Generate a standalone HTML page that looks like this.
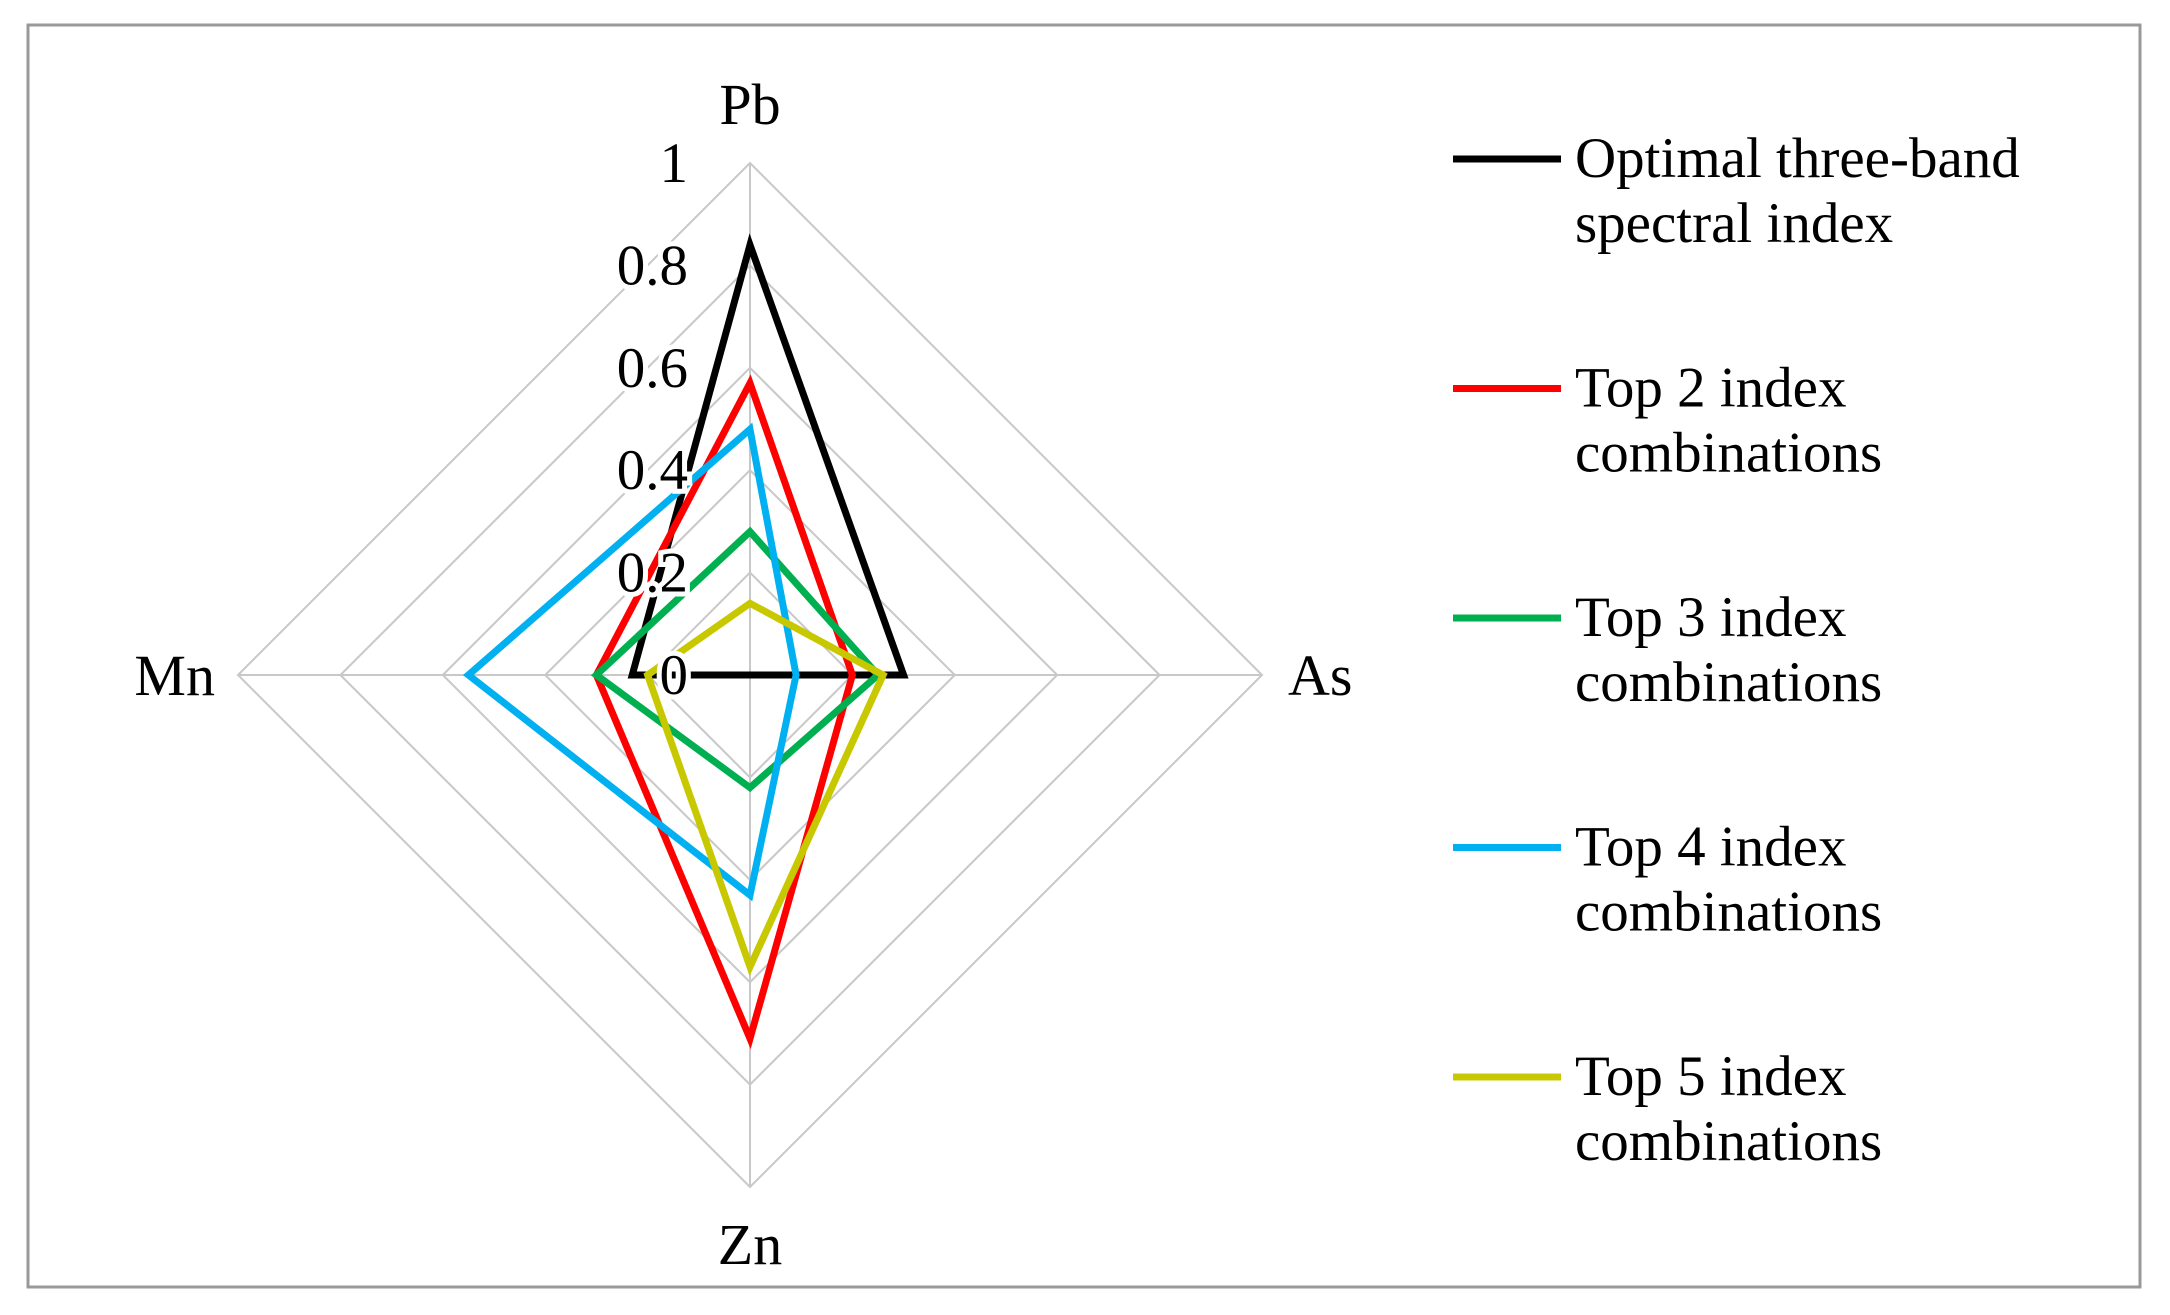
<!DOCTYPE html>
<html><head><meta charset="utf-8"><style>
body{margin:0;background:#fff}
svg{display:block;font-family:"Liberation Serif",serif}
</style></head><body>
<svg id="chart" width="2170" height="1315">
<rect x="28" y="25" width="2112" height="1262" fill="#fff" stroke="#999" stroke-width="3"/>
<g id="grid"></g><g id="series"></g><g id="labels"></g><g id="legend"></g>
</svg>
<script>
const axes = ["Pb","As","Zn","Mn"];
const ticks = [0,0.2,0.4,0.6,0.8,1];
const tickLabels = ["0","0.2","0.4","0.6","0.8","1"];
const seriesNames = ["Optimal three-band spectral index","Top 2 index combinations","Top 3 index combinations","Top 4 index combinations","Top 5 index combinations"];
const legendLine1 = ["Optimal three-band","Top 2 index","Top 3 index","Top 4 index","Top 5 index"];
const legendLine2 = ["spectral index","combinations","combinations","combinations","combinations"];
const colors = ["#000000","#ff0000","#00b050","#00b0f0","#c8c800"];
const sOptimal = [0.84,0.30,0.0,0.23];
const sTop2 = [0.57,0.20,0.71,0.30];
const sTop3 = [0.28,0.25,0.22,0.30];
const sTop4 = [0.48,0.09,0.43,0.55];
const sTop5 = [0.14,0.26,0.57,0.20];
const series = [sOptimal,sTop2,sTop3,sTop4,sTop5];

const NS="http://www.w3.org/2000/svg";
const cx=750, cy=675, R=512;
function pt(i,v){const a=-Math.PI/2+i*Math.PI/2;return [cx+R*v*Math.cos(a), cy+R*v*Math.sin(a)];}
function mk(tag,attrs,parent){const e=document.createElementNS(NS,tag);for(const k in attrs)e.setAttribute(k,attrs[k]);parent.appendChild(e);return e;}
const grid=document.getElementById('grid');
ticks.forEach((t,ti)=>{ if(t===0)return;
  const p=axes.map((_,i)=>pt(i,t).join(',')).join(' ');
  const e=mk('polygon',{points:p,fill:'none',stroke:'#c8c8c8','stroke-width':2},grid);
  
  
});
axes.forEach((a,i)=>{const p=pt(i,1);
  const e=mk('line',{x1:cx,y1:cy,x2:p[0],y2:p[1],stroke:'#c8c8c8','stroke-width':2},grid);
  
  
});
const sg=document.getElementById('series');
series.forEach((s,si)=>{
  const p=s.map((v,i)=>pt(i,v).join(',')).join(' ');
  const e=mk('polygon',{points:p,fill:'none',stroke:colors[si],'stroke-width':7,'stroke-linejoin':'miter'},sg);
  
  
});
const lg=document.getElementById('labels');
ticks.forEach((t,ti)=>{
  const y=cy-R*t;
  const e=mk('text',{x:688,y:y+19,'text-anchor':'end','font-size':57,fill:'#000',stroke:'#fff','stroke-width':10,'paint-order':'stroke'},lg);
  e.textContent=tickLabels[ti];
  
  
});
const axPos=[[750,124,'middle'],[1288,695,'start'],[750,1264,'middle'],[215,695,'end']];
axes.forEach((a,i)=>{
  const e=mk('text',{x:axPos[i][0],y:axPos[i][1],'text-anchor':axPos[i][2],'font-size':58,fill:'#000'},lg);
  e.textContent=a;
  
  
});
const leg=document.getElementById('legend');
seriesNames.forEach((n,i)=>{
  const y=159+i*229.5;
  const g=mk('g',{},leg);
  
  
  mk('line',{x1:1453,y1:y,x2:1561,y2:y,stroke:colors[i],'stroke-width':7},g);
  const t1=mk('text',{x:1575,y:y+18,'font-size':57,fill:'#000'},g);t1.textContent=legendLine1[i];
  const t2=mk('text',{x:1575,y:y+83,'font-size':57,fill:'#000'},g);t2.textContent=legendLine2[i];
});
</script>
</body></html>
